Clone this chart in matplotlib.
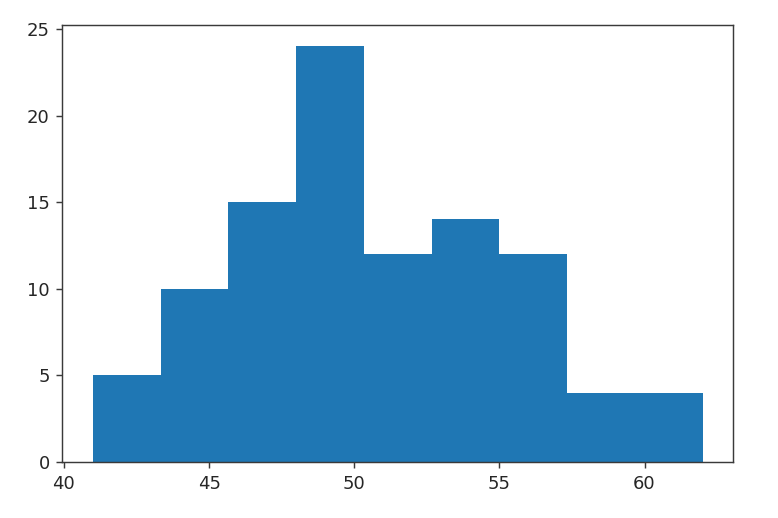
import matplotlib
matplotlib.use("Agg")
import matplotlib.pyplot as plt
import numpy as np

# Histogram bin edges (9 equal bins from 41 to 62) and counts per bin
bin_edges = np.linspace(41, 62, 10)
counts = [5, 10, 15, 24, 12, 14, 12, 4, 4]

dpi = 129.6
fig = plt.figure(figsize=(778 / dpi, 518 / dpi), dpi=dpi)
ax = fig.add_axes([0.0803, 0.1081, 0.862, 0.8427])

ax.hist(bin_edges[:-1], bins=bin_edges, weights=counts, color="#1f77b4")
ax.set_xticks([40, 45, 50, 55, 60])
ax.set_yticks([0, 5, 10, 15, 20, 25])

for s in ax.spines.values():
    s.set_color("#3a3a3a")
ax.tick_params(colors="#3a3a3a", labelcolor="#262626")

fig.savefig("out.png", dpi=dpi)
